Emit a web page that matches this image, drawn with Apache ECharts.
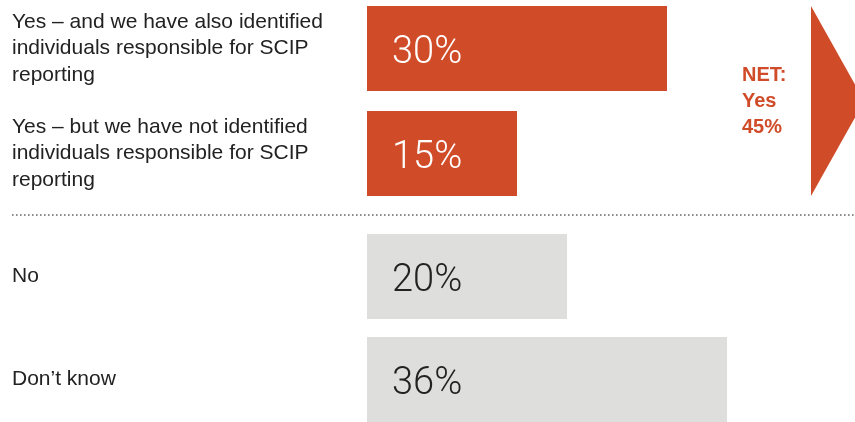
<!DOCTYPE html>
<html>
<head>
<meta charset="utf-8">
<style>
  html, body { margin: 0; padding: 0; background: #ffffff; }
  #chart { width: 855px; height: 422px; }
</style>
<script src="https://cdn.jsdelivr.net/npm/echarts@6/dist/echarts.min.js"></script>
</head>
<body>
<div id="chart"></div>
<script>
// Survey answers, split into the "Yes" group and the remaining answers
const yesCategories = [
  'Yes – and we have also identified\nindividuals responsible for SCIP\nreporting',
  'Yes – but we have not identified\nindividuals responsible for SCIP\nreporting'
];
const yesValues = [30, 15];

const otherCategories = ['No', 'Don’t know'];
const otherValues = [20, 36];

const netLines = ['NET:', 'Yes', '45%'];

const ORANGE = '#d04b27';
const GREY = '#dededd';
const TEXT = '#222222';

const BAR_W = 85;
const LABEL_FONT = 'Roboto, "Liberation Sans", Arial, sans-serif';
const CAT_FONT = '"Liberation Sans", Arial, Helvetica, sans-serif';

const chart = echarts.init(document.getElementById('chart'), null, { renderer: 'canvas' });

function xAxis(gridIndex) {
  return {
    type: 'value', gridIndex, min: 0, max: 50,
    show: false, splitLine: { show: false }
  };
}
function yAxis(gridIndex, data) {
  return {
    type: 'category', gridIndex, data, inverse: true,
    axisLine: { show: false }, axisTick: { show: false },
    axisLabel: {
      align: 'left', margin: 355, color: TEXT,
      fontFamily: CAT_FONT, fontSize: 21, lineHeight: 26.5,
      padding: [4, 0, 0, 0]
    }
  };
}
function barSeries(idx, data, color, labelColor) {
  return {
    type: 'bar', xAxisIndex: idx, yAxisIndex: idx, data,
    barWidth: BAR_W, itemStyle: { color },
    silent: true, animation: false,
    label: {
      show: true, position: 'insideLeft', distance: 25, offset: [0, 5],
      formatter: '{c}%', color: labelColor,
      fontFamily: LABEL_FONT, fontWeight: 300, fontSize: 38
    }
  };
}

chart.setOption({
  animation: false,
  grid: [
    { left: 367, top: -4, width: 500, height: 210, outerBoundsMode: 'none' },
    { left: 367, top: 225, width: 500, height: 206, outerBoundsMode: 'none' }
  ],
  xAxis: [xAxis(0), xAxis(1)],
  yAxis: [yAxis(0, yesCategories), yAxis(1, otherCategories)],
  series: [
    barSeries(0, yesValues, ORANGE, '#ffffff'),
    barSeries(1, otherValues, GREY, TEXT)
  ]
});

// Net bracket arrow spanning the "Yes" bars, plus the dotted divider
const yTop = chart.convertToPixel({ yAxisIndex: 0 }, 0) - BAR_W / 2;
const yBot = chart.convertToPixel({ yAxisIndex: 0 }, 1) + BAR_W / 2;
const yNext = chart.convertToPixel({ yAxisIndex: 1 }, 0) - BAR_W / 2;
const yMid = (yTop + yBot) / 2;
const arrowX = 811;

chart.setOption({
  graphic: [
    {
      type: 'polygon', silent: true,
      shape: { points: [[arrowX, yTop], [arrowX, yBot], [arrowX + (yBot - yTop) * 0.28, yMid]] },
      style: { fill: ORANGE }
    },
    {
      type: 'text', silent: true, left: 742, top: yMid - 39,
      style: {
        text: netLines.join('\n'), fill: ORANGE,
        font: 'bold 20px ' + CAT_FONT, lineHeight: 26
      }
    },
    {
      type: 'line', silent: true,
      shape: { x1: 12, y1: (yBot + yNext) / 2, x2: 855, y2: (yBot + yNext) / 2 },
      style: { stroke: '#8f8f8f', lineWidth: 2, lineDash: [1.6, 2.4] }
    }
  ]
});
</script>
</body>
</html>
